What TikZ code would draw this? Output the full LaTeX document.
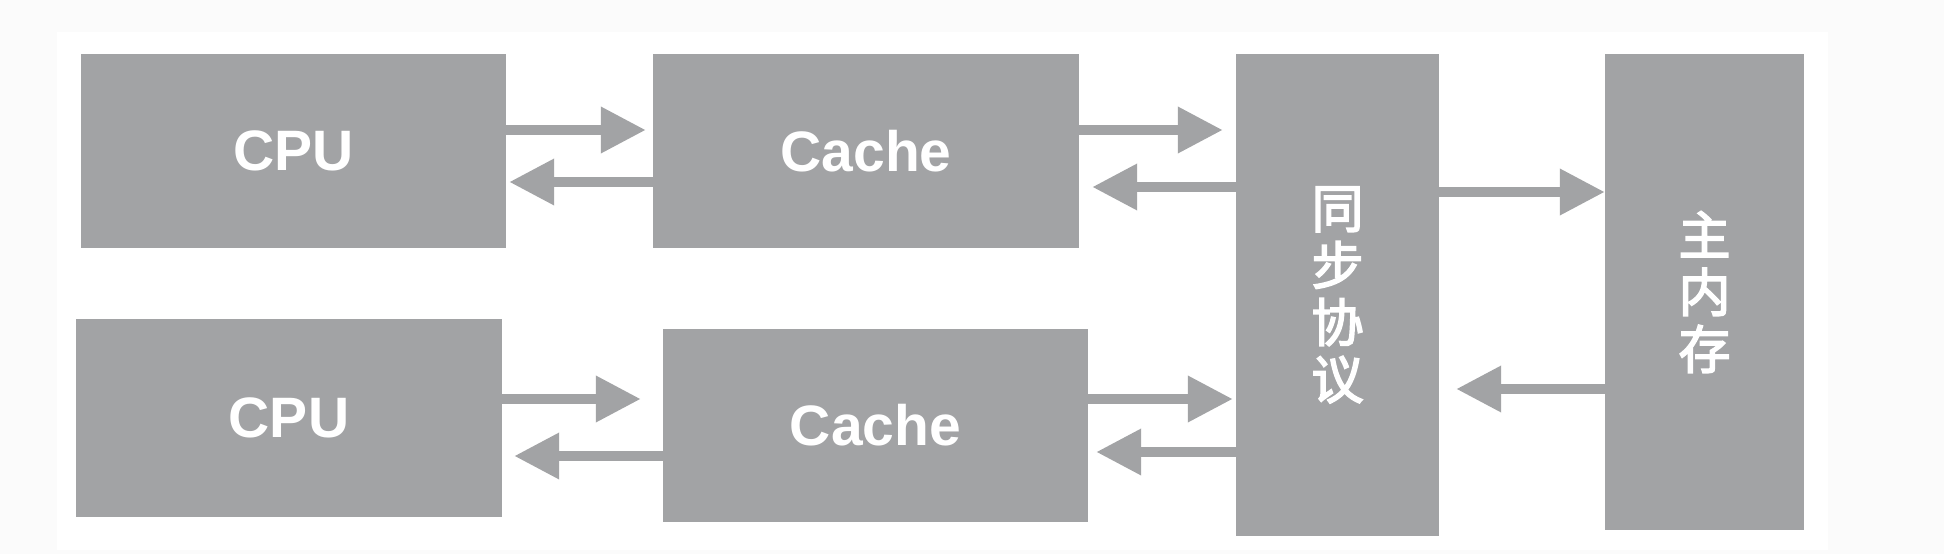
\documentclass[tikz,border=0pt]{standalone}
\usepackage{fontspec}
\setmainfont{Liberation Sans}
\newfontfamily\cjk[RawFeature={embolden=3}]{Noto Sans CJK SC}
\usetikzlibrary{arrows.meta}
\definecolor{boxgray}{HTML}{A2A3A5}
\definecolor{pagegray}{HTML}{FBFBFB}
\tikzset{
  blk/.style={fill=boxgray,inner sep=0pt,text=white,font=\bfseries\fontsize{57}{57}\selectfont},
  vblk/.style={blk,align=center,font=\cjk\mdseries\fontsize{52}{57}\selectfont},
  arr/.style={draw=boxgray,line width=10pt,-{Triangle[length=45pt,width=44pt]}}
}
\begin{document}
\begin{tikzpicture}[x=1pt,y=-1pt]
\fill[pagegray] (0,0) rectangle (1944,554);
\useasboundingbox (0,0) rectangle (1944,554);
\fill[white] (57,32) rectangle (1828,550);
\node[blk,minimum width=425pt,minimum height=194pt] (cpuA) at (293.5,151) {CPU};
\node[blk,minimum width=426pt,minimum height=194pt] (cacheA) at (866,151) {Cache};
\node[blk,minimum width=426pt,minimum height=198pt] (cpuB) at (289,418) {CPU};
\node[blk,minimum width=425pt,minimum height=193pt] (cacheB) at (875.5,425.5) {Cache};
\node[vblk,minimum width=203pt,minimum height=482pt] (sync) at (1337.5,295) {同\\步\\协\\议};
\node[vblk,minimum width=199pt,minimum height=476pt] (mem) at (1704.5,292) {主\\内\\存};
\draw[arr,shorten >=7pt] ([yshift=21pt]cpuA.east) coordinate (p) -- (p -| cacheA.west);
\draw[arr,shorten >=3pt] ([yshift=-31pt]cacheA.west) coordinate (p) -- (p -| cpuA.east);
\draw[arr,shorten >=13pt] ([yshift=21pt]cacheA.east) coordinate (p) -- (p -| sync.west);
\draw[arr,shorten >=13pt] ([yshift=-36pt]cacheA.east -| sync.west) coordinate (p) -- (p -| cacheA.east);
\draw[arr,shorten >=22pt] ([yshift=19pt]cpuB.east) coordinate (p) -- (p -| cacheB.west);
\draw[arr,shorten >=12pt] ([yshift=-38pt]cpuB.east -| cacheB.west) coordinate (p) -- (p -| cpuB.east);
\draw[arr,shorten >=3pt] ([yshift=26.5pt]cacheB.east) coordinate (p) -- (p -| sync.west);
\draw[arr,shorten >=8pt] ([yshift=-26.5pt]cacheB.east -| sync.west) coordinate (p) -- (p -| cacheB.east);
\draw[arr] ([yshift=103pt]sync.east) coordinate (p) -- (p -| mem.west);
\draw[arr,shorten >=17pt] ([yshift=-97pt]mem.west) coordinate (p) -- (p -| sync.east);
\end{tikzpicture}
\end{document}
